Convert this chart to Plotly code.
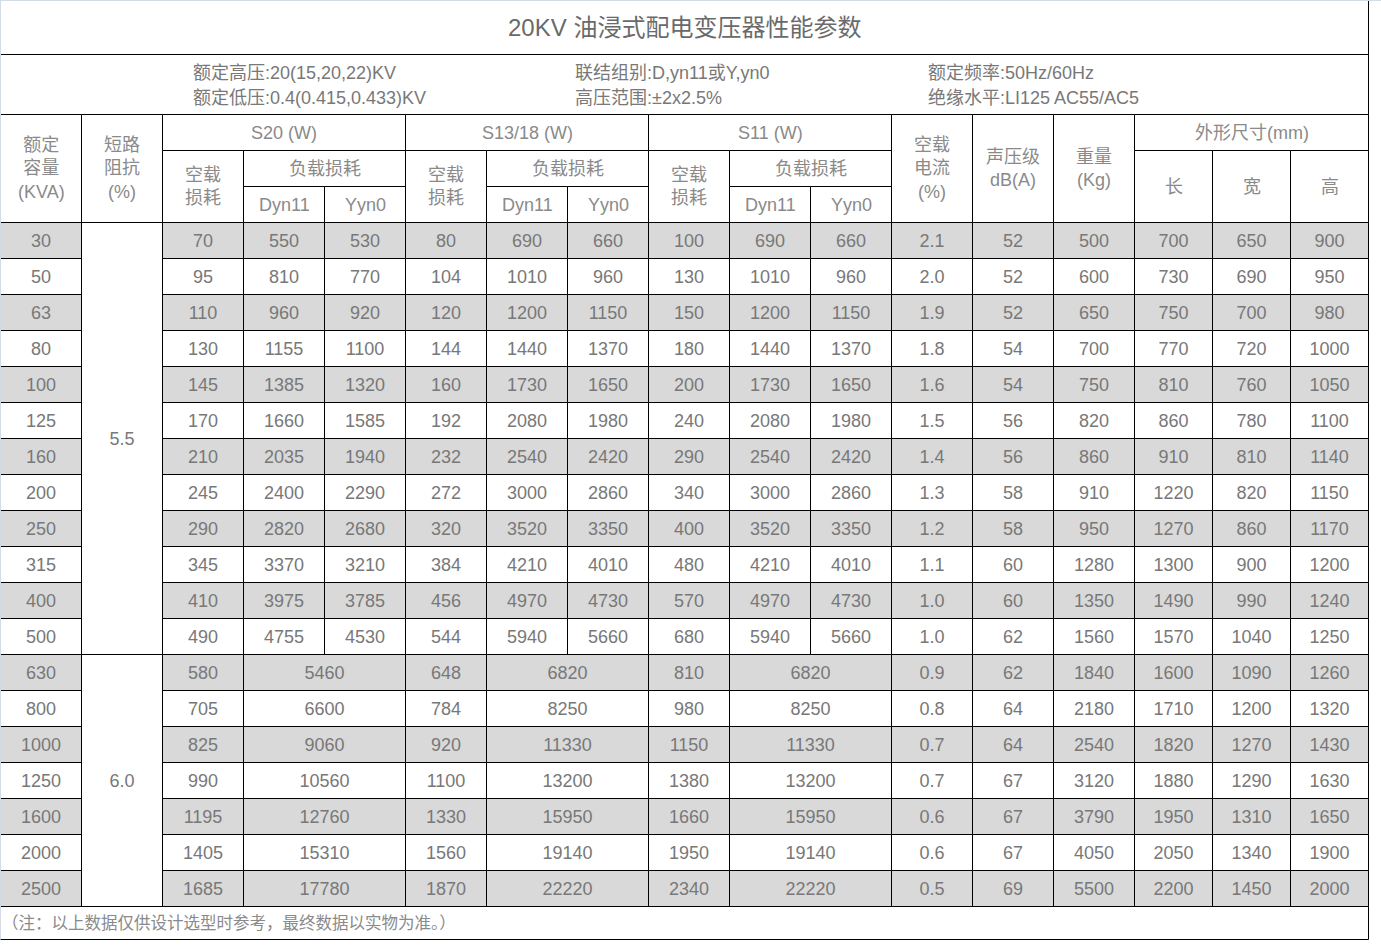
"""20KV oil-immersed distribution transformer parameter table drawn with Plotly shapes."""

import numpy as np
import plotly.graph_objects as go

# ---- data -----------------------------------------------------------------
title = "20KV 油浸式配电变压器性能参数"
info_lines = [
    ["额定高压:20(15,20,22)KV", "额定低压:0.4(0.415,0.433)KV"],
    ["联结组别:D,yn11或Y,yn0", "高压范围:±2x2.5%"],
    ["额定频率:50Hz/60Hz", "绝缘水平:LI125 AC55/AC5"],
]
footnote = "（注：以上数据仅供设计选型时参考，最终数据以实物为准。）"

capacity = [30, 50, 63, 80, 100, 125, 160, 200, 250, 315, 400, 500,
            630, 800, 1000, 1250, 1600, 2000, 2500]
impedance = [("5.5", 12), ("6.0", 7)]

s20_noload = [70, 95, 110, 130, 145, 170, 210, 245, 290, 345, 410, 490,
              580, 705, 825, 990, 1195, 1405, 1685]
s20_dyn11 = [550, 810, 960, 1155, 1385, 1660, 2035, 2400, 2820, 3370, 3975, 4755,
             5460, 6600, 9060, 10560, 12760, 15310, 17780]
s20_yyn0 = [530, 770, 920, 1100, 1320, 1585, 1940, 2290, 2680, 3210, 3785, 4530]

s13_noload = [80, 104, 120, 144, 160, 192, 232, 272, 320, 384, 456, 544,
              648, 784, 920, 1100, 1330, 1560, 1870]
s13_dyn11 = [690, 1010, 1200, 1440, 1730, 2080, 2540, 3000, 3520, 4210, 4970, 5940,
             6820, 8250, 11330, 13200, 15950, 19140, 22220]
s13_yyn0 = [660, 960, 1150, 1370, 1650, 1980, 2420, 2860, 3350, 4010, 4730, 5660]

s11_noload = [100, 130, 150, 180, 200, 240, 290, 340, 400, 480, 570, 680,
              810, 980, 1150, 1380, 1660, 1950, 2340]
s11_dyn11 = [690, 1010, 1200, 1440, 1730, 2080, 2540, 3000, 3520, 4210, 4970, 5940,
             6820, 8250, 11330, 13200, 15950, 19140, 22220]
s11_yyn0 = [660, 960, 1150, 1370, 1650, 1980, 2420, 2860, 3350, 4010, 4730, 5660]

noload_current = ["2.1", "2.0", "1.9", "1.8", "1.6", "1.5", "1.4", "1.3", "1.2", "1.1",
                  "1.0", "1.0", "0.9", "0.8", "0.7", "0.7", "0.6", "0.6", "0.5"]
noise_db = [52, 52, 52, 54, 54, 56, 56, 58, 58, 60, 60, 62, 62, 64, 64, 67, 67, 67, 69]
weight_kg = [500, 600, 650, 700, 750, 820, 860, 910, 950, 1280, 1350, 1560,
             1840, 2180, 2540, 3120, 3790, 4050, 5500]
dim_length = [700, 730, 750, 770, 810, 860, 910, 1220, 1270, 1300, 1490, 1570,
              1600, 1710, 1820, 1880, 1950, 2050, 2200]
dim_width = [650, 690, 700, 720, 760, 780, 810, 820, 860, 900, 990, 1040,
             1090, 1200, 1270, 1290, 1310, 1340, 1450]
dim_height = [900, 950, 980, 1000, 1050, 1100, 1140, 1150, 1170, 1200, 1240, 1250,
              1260, 1320, 1430, 1630, 1650, 1900, 2000]

series_groups = [("S20 (W)", s20_noload, s20_dyn11, s20_yyn0),
                 ("S13/18 (W)", s13_noload, s13_dyn11, s13_yyn0),
                 ("S11 (W)", s11_noload, s11_dyn11, s11_yyn0)]

# ---- layout grid ----------------------------------------------------------
W, H = 1381, 948
col_widths = [81] * 14 + [78] * 3
row_heights = [54, 60, 36, 36, 36] + [36] * len(capacity) + [33]
xe = 0.5 + np.cumsum([0] + col_widths)
ye = 0.5 + np.cumsum([0] + row_heights)
DATA0 = 5  # first data row index in ye

GRAY = "#d9d9d9"
NUM_COLOR = "#787878"
HEAD_COLOR = "#8a8a8a"
FONT = "Arial, 'Liberation Sans', 'Noto Sans CJK SC', sans-serif"
NUM_SIZE = 18
HEAD_SIZE = 18
TEXT_DY = 1.5  # nudge numbers down to sit in the optical middle

fig = go.Figure()
shapes, annotations = [], []
tx, ty, tt = [], [], []


def cell(c0, c1, r0, r1, fill="white"):
    shapes.append(dict(type="rect", xref="x", yref="y", layer="below",
                       x0=xe[c0], x1=xe[c1], y0=ye[r0], y1=ye[r1],
                       fillcolor=fill, line=dict(color="black", width=1)))
    return (xe[c0] + xe[c1]) / 2, (ye[r0] + ye[r1]) / 2


def label(x, y, text, size=HEAD_SIZE, color=HEAD_COLOR, align="center", xanchor="center",
          xref="x"):
    annotations.append(dict(x=x, y=y, xref=xref, yref="y", text=text, showarrow=False,
                            align=align, xanchor=xanchor, yanchor="middle",
                            font=dict(family=FONT, size=size, color=color)))


def value(x, y, v):
    tx.append(x)
    ty.append(y + TEXT_DY)
    tt.append(str(v))


# title + info rows
cx, cy = cell(0, 17, 0, 1)
label(cx, cy, title, size=24, color="#6a6a6a")
cell(0, 17, 1, 2)
for lines, x0 in zip(info_lines, [191, 573, 926]):
    label(x0, ye[1] + 18, lines[0], size=18, color=NUM_COLOR, align="left", xanchor="left")
    label(x0, ye[1] + 43, lines[1], size=18, color=NUM_COLOR, align="left", xanchor="left")

# header
label(*cell(0, 1, 2, 5), "额定<br>容量<br>(KVA)")
label(*cell(1, 2, 2, 5), "短路<br>阻抗<br>(%)")
for g, (name, *_rest) in enumerate(series_groups):
    c = 2 + 3 * g
    label(*cell(c, c + 3, 2, 3), name)
    label(*cell(c, c + 1, 3, 5), "空载<br>损耗")
    label(*cell(c + 1, c + 3, 3, 4), "负载损耗")
    label(*cell(c + 1, c + 2, 4, 5), "Dyn11")
    label(*cell(c + 2, c + 3, 4, 5), "Yyn0")
label(*cell(11, 12, 2, 5), "空载<br>电流<br>(%)")
label(*cell(12, 13, 2, 5), "声压级<br>dB(A)")
label(*cell(13, 14, 2, 5), "重量<br>(Kg)")
label(*cell(14, 17, 2, 3), "外形尺寸(mm)")
for c, t in zip([14, 15, 16], ["长", "宽", "高"]):
    label(*cell(c, c + 1, 3, 5), t)

# body
for i in range(len(capacity)):
    r = DATA0 + i
    fill = GRAY if i % 2 == 0 else "white"
    value(*cell(0, 1, r, r + 1, fill), capacity[i])
    for g, (_name, noload, dyn, yyn) in enumerate(series_groups):
        c = 2 + 3 * g
        value(*cell(c, c + 1, r, r + 1, fill), noload[i])
        if i < len(yyn):
            value(*cell(c + 1, c + 2, r, r + 1, fill), dyn[i])
            value(*cell(c + 2, c + 3, r, r + 1, fill), yyn[i])
        else:
            value(*cell(c + 1, c + 3, r, r + 1, fill), dyn[i])
    value(*cell(11, 12, r, r + 1, fill), noload_current[i])
    value(*cell(12, 13, r, r + 1, fill), noise_db[i])
    value(*cell(13, 14, r, r + 1, fill), weight_kg[i])
    value(*cell(14, 15, r, r + 1, fill), dim_length[i])
    value(*cell(15, 16, r, r + 1, fill), dim_width[i])
    value(*cell(16, 17, r, r + 1, fill), dim_height[i])

# merged impedance column
start = DATA0
for txt, n in impedance:
    value(*cell(1, 2, start, start + n), txt)
    start += n

# footnote row
cx, cy = cell(0, 17, len(row_heights) - 1, len(row_heights))
label(0, cy, footnote, size=16.5, color=HEAD_COLOR, align="left", xanchor="left",
      xref="paper")

# light outer edge on top / left
edge = "#d3dbe8"
shapes.append(dict(type="line", xref="x", yref="y", x0=0, x1=W, y0=0.5, y1=0.5,
                   line=dict(color=edge, width=1)))
shapes.append(dict(type="line", xref="x", yref="y", x0=0.5, x1=0.5, y0=0, y1=ye[-1],
                   line=dict(color=edge, width=1)))

fig.add_trace(go.Scatter(x=tx, y=ty, text=tt, mode="text", textposition="middle center",
                         textfont=dict(family=FONT, size=NUM_SIZE, color=NUM_COLOR),
                         hoverinfo="skip"))

fig.update_layout(
    width=W, height=H, margin=dict(l=0, r=0, t=0, b=0),
    paper_bgcolor="white", plot_bgcolor="white", showlegend=False,
    xaxis=dict(range=[0, W], visible=False, fixedrange=True),
    yaxis=dict(range=[H, 0], visible=False, fixedrange=True),
    shapes=shapes, annotations=annotations,
)

fig.write_html("out.html", config={"displayModeBar": False},
               post_script="document.body.style.margin='0px';")
